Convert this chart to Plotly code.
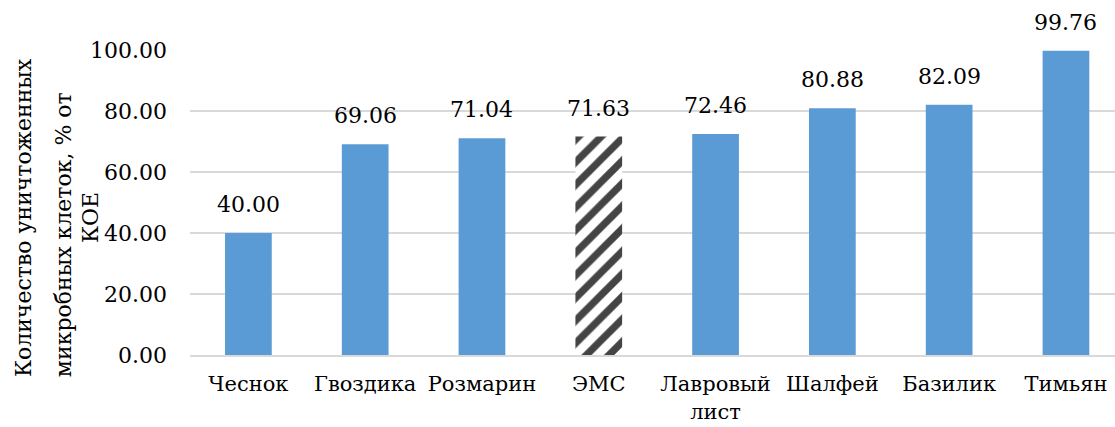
import plotly.graph_objects as go

categories = ["Чеснок", "Гвоздика", "Розмарин", "ЭМС", "Лавровый<br>лист",
              "Шалфей", "Базилик", "Тимьян"]
values = [40.00, 69.06, 71.04, 71.63, 72.46, 80.88, 82.09, 99.76]
hatched = "ЭМС"
y_ticks = [0, 20, 40, 60, 80, 100]

FONT = "DejaVu Serif"
FS = 22
BLUE = "#5b9bd5"

colors = ["white" if c == hatched else BLUE for c in categories]
shapes = ["/" if c == hatched else "" for c in categories]

fig = go.Figure()
fig.add_trace(go.Bar(
    x=categories,
    y=values,
    width=0.40,
    marker=dict(
        color=colors,
        line=dict(width=0),
        pattern=dict(shape=shapes, fgcolor="black", fgopacity=1,
                     size=16, solidity=0.45, fillmode="overlay"),
    ),
    hoverinfo="skip",
))

# value labels above each bar
for c, v in zip(categories, values):
    fig.add_annotation(x=c, y=v, text=f"{v:.2f}", showarrow=False,
                       xref="x", yref="y", yanchor="bottom", yshift=14,
                       font=dict(family=FONT, size=FS, color="black"))

# rotated y-axis title, three lines
title_lines = [
    ("Количество уничтоженных", -167, 0.449),
    ("микробных клеток, % от", -127, 0.393),
    ("КОЕ", -100, 0.449),
]
for txt, xs, yp in title_lines:
    fig.add_annotation(x=0, y=yp, xref="paper", yref="paper", text=txt,
                       textangle=-90, showarrow=False, xanchor="center",
                       yanchor="middle", xshift=xs,
                       font=dict(family=FONT, size=FS, color="black"))

fig.update_layout(
    width=1115, height=427,
    margin=dict(l=190, r=0, t=50, b=72),
    paper_bgcolor="white", plot_bgcolor="white",
    showlegend=False,
    font=dict(family=FONT, size=FS, color="black"),
    xaxis=dict(
        range=[-0.5, 7.42],
        showgrid=False,
        showline=True, linecolor="#d9d9d9", linewidth=2,
        ticks="", ticklabelstandoff=9,
        tickfont=dict(family=FONT, size=21, color="black"),
        fixedrange=True,
    ),
    yaxis=dict(
        range=[0, 100],
        tickvals=y_ticks,
        tickformat=".2f",
        showgrid=True, gridcolor="#d9d9d9", gridwidth=1.5,
        zeroline=False, showline=False,
        ticks="", ticklabelstandoff=22,
        tickfont=dict(family=FONT, size=FS, color="black"),
        fixedrange=True,
    ),
)

fig.write_html("out.html")
